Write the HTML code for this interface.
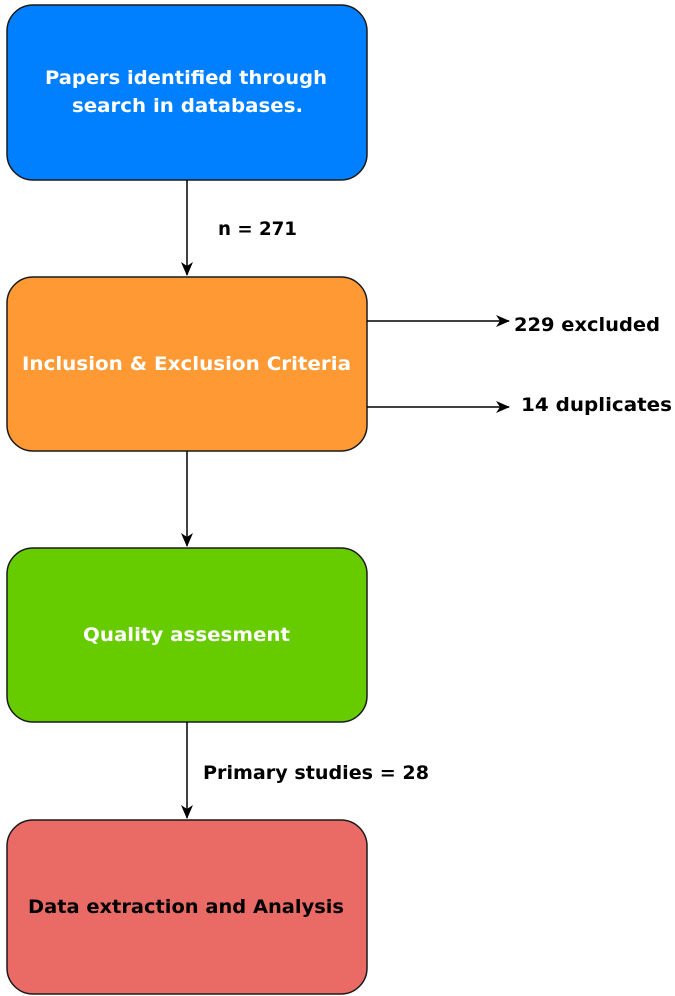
<!DOCTYPE html>
<html><head><style>
html,body{margin:0;padding:0;background:#fff;}
svg{display:block;}
text{font-family:"DejaVu Sans","Liberation Sans",Arial,sans-serif;font-weight:bold;}
</style></head><body>
<svg width="675" height="996" viewBox="0 0 675 996" xmlns="http://www.w3.org/2000/svg">
<defs>
<marker id="a" markerWidth="14" markerHeight="14" refX="13" refY="7" orient="auto" markerUnits="userSpaceOnUse">
<path d="M0,1 L14,7 L0,13 L4,7 Z" fill="#000"/>
</marker>
</defs>
<rect x="7" y="5" width="360" height="175" rx="26" fill="#007FFF" stroke="#1a1a1a" stroke-width="1.5"/>
<rect x="7" y="277" width="360" height="174" rx="26" fill="#FF9933" stroke="#1a1a1a" stroke-width="1.5"/>
<rect x="7" y="548" width="360" height="174" rx="26" fill="#66CC00" stroke="#1a1a1a" stroke-width="1.5"/>
<rect x="7" y="820" width="360" height="174" rx="26" fill="#EA6B66" stroke="#1a1a1a" stroke-width="1.5"/>
<line x1="187" y1="180" x2="187" y2="275" stroke="#000" stroke-width="1.5" marker-end="url(#a)"/>
<line x1="187" y1="451" x2="187" y2="546" stroke="#000" stroke-width="1.5" marker-end="url(#a)"/>
<line x1="187" y1="722" x2="187" y2="818" stroke="#000" stroke-width="1.5" marker-end="url(#a)"/>
<line x1="367" y1="321" x2="509" y2="321" stroke="#000" stroke-width="1.5" marker-end="url(#a)"/>
<line x1="367" y1="407" x2="509" y2="407" stroke="#000" stroke-width="1.5" marker-end="url(#a)"/>
<text x="45" y="84" fill="#fff" font-size="19" textLength="282" lengthAdjust="spacingAndGlyphs">Papers identified through</text>
<text x="72" y="112" fill="#fff" font-size="19" textLength="231" lengthAdjust="spacingAndGlyphs">search in databases.</text>
<text x="22" y="370" fill="#fff" font-size="19" textLength="329" lengthAdjust="spacingAndGlyphs">Inclusion &amp; Exclusion Criteria</text>
<text x="83" y="641" fill="#fff" font-size="19" textLength="207" lengthAdjust="spacingAndGlyphs">Quality assesment</text>
<text x="28" y="913" fill="#000" font-size="19" textLength="316" lengthAdjust="spacingAndGlyphs">Data extraction and Analysis</text>
<text x="218" y="235" fill="#000" font-size="19" textLength="79" lengthAdjust="spacingAndGlyphs">n = 271</text>
<text x="514" y="331" fill="#000" font-size="19" textLength="146" lengthAdjust="spacingAndGlyphs">229 excluded</text>
<text x="521" y="411" fill="#000" font-size="19" textLength="151" lengthAdjust="spacingAndGlyphs">14  duplicates</text>
<text x="203" y="779" fill="#000" font-size="19" textLength="226" lengthAdjust="spacingAndGlyphs">Primary studies = 28</text>
</svg>
</body></html>
